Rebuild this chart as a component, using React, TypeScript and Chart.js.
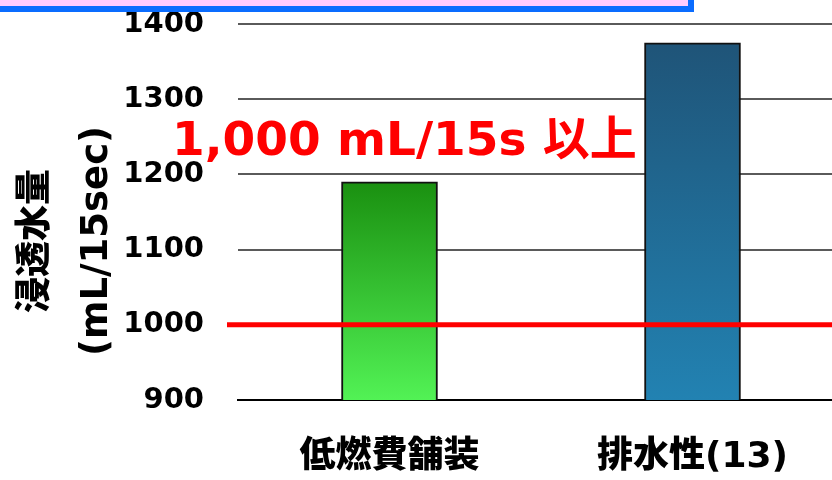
import React, { useEffect, useRef } from "react";
import { Chart, registerables } from "chart.js";

Chart.register(...registerables);

const categories = ["低燃費舗装", "排水性(13)"];
const values = [1190, 1375];
const yTicks = [900, 1000, 1100, 1200, 1300, 1400];
const threshold = 1000;
const thresholdLabel = "1,000 mL/15s 以上";
const yTitleLine1 = "浸透水量";
const yTitleLine2 = "(mL/15sec)";
const gradTop = ["#1A9010", "#1F5478"];
const gradBottom = ["#52F255", "#2282B2"];

const LATIN = '"DejaVu Sans", "Noto Sans CJK JP", sans-serif';
const CJK = '"Noto Sans CJK JP", "DejaVu Sans", sans-serif';

const overlay = {
  id: "overlay",
  afterDatasetsDraw(chart: any) {
    const { ctx, scales } = chart;
    const y = scales.y.getPixelForValue(threshold);
    ctx.save();
    ctx.strokeStyle = "#FF0000";
    ctx.lineWidth = 5;
    ctx.beginPath();
    ctx.moveTo(227, y);
    ctx.lineTo(chart.width, y);
    ctx.stroke();
    ctx.restore();
  },
  afterDraw(chart: any) {
    const { ctx, scales } = chart;
    const yA = scales.y;
    const midY = (yA.top + yA.bottom) / 2 + 29;
    ctx.save();
    ctx.fillStyle = "#000";
    ctx.textAlign = "center";
    ctx.textBaseline = "middle";
    ctx.translate(32, midY);
    ctx.rotate(-Math.PI / 2);
    ctx.font = "900 36px " + CJK;
    ctx.fillText(yTitleLine1, 0, 0);
    ctx.restore();

    ctx.save();
    ctx.fillStyle = "#000";
    ctx.textAlign = "center";
    ctx.textBaseline = "middle";
    ctx.translate(97, midY);
    ctx.rotate(-Math.PI / 2);
    ctx.font = "bold 37px " + LATIN;
    ctx.fillText(yTitleLine2, 0, 0);
    ctx.restore();

    ctx.save();
    ctx.fillStyle = "#FF0000";
    ctx.textAlign = "left";
    ctx.textBaseline = "alphabetic";
    ctx.font = "bold 47px " + LATIN;
    ctx.fillText(thresholdLabel, 172, 155);
    ctx.restore();
  },
};

export default function App() {
  const ref = useRef<HTMLCanvasElement>(null);
  useEffect(() => {
    document.body.style.margin = "0";
    document.body.style.overflow = "hidden";
    const canvas = ref.current!;
    const chart = new Chart(canvas, {
      type: "bar",
      data: {
        labels: categories,
        datasets: [
          {
            data: values,
            barThickness: 96,
            borderColor: "#111111",
            borderWidth: 2,
            borderSkipped: false,
            backgroundColor: (c: any) => {
              const ch = c.chart;
              const area = ch.chartArea;
              const i = c.dataIndex ?? 0;
              if (!area || c.type !== "data") return gradTop[i] || gradTop[0];
              const top = ch.scales.y.getPixelForValue(values[i]);
              const g = ch.ctx.createLinearGradient(0, top, 0, area.bottom);
              g.addColorStop(0, gradTop[i]);
              g.addColorStop(1, gradBottom[i]);
              return g;
            },
          },
        ],
      },
      options: {
        responsive: false,
        animation: false,
        devicePixelRatio: 1,
        layout: { autoPadding: false, padding: { top: 24, right: 6, left: 0, bottom: 0 } },
        plugins: { legend: { display: false }, tooltip: { enabled: false } },
        scales: {
          x: {
            grid: { display: false, drawTicks: false },
            border: { display: true, color: "#000", width: 2 },
            ticks: {
              color: "#000",
              padding: 36,
              font: { family: LATIN, size: 36, weight: "900" },
            },
            afterFit: (s: any) => {
              s.height = 80;
            },
          },
          y: {
            min: yTicks[0],
            max: yTicks[yTicks.length - 1],
            afterBuildTicks: (s: any) => {
              s.ticks = yTicks.map((v) => ({ value: v }));
            },
            grid: {
              color: "#5A5A5A",
              lineWidth: 2,
              drawTicks: true,
              tickLength: 34,
              tickColor: "rgba(0,0,0,0)",
            },
            border: { display: false },
            ticks: {
              color: "#000",
              padding: 0,
              font: { family: LATIN, size: 29, weight: "bold" },
              callback: (v: any) => String(v),
            },
            afterFit: (s: any) => {
              s.width = 238;
            },
          },
        },
      },
      plugins: [overlay],
    } as any);
    return () => chart.destroy();
  }, []);
  return (
    <div style={{ position: "relative", width: 832, height: 480, overflow: "hidden", background: "#fff" }}>
      <div
        style={{
          position: "absolute",
          left: -10,
          top: -20,
          width: 704,
          height: 32,
          boxSizing: "border-box",
          border: "6px solid #0A6CFF",
          background: "#FFCCFF",
          zIndex: 2,
        }}
      />
      <canvas ref={ref} width={850} height={480} style={{ position: "absolute", left: 0, top: 0, width: 850, height: 480 }} />
    </div>
  );
}
